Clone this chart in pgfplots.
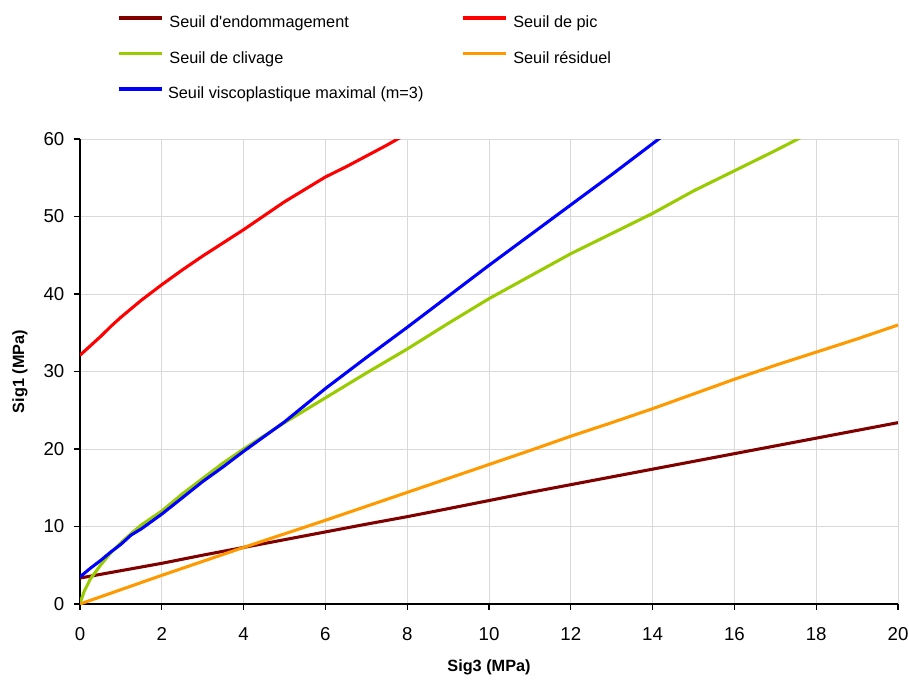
\documentclass[border=0pt]{standalone}
\usepackage{fontspec}
\setmainfont{Liberation Sans}
\usepackage{pgfplots}
\pgfplotsset{compat=1.18}
\definecolor{cbrown}{HTML}{800000}
\definecolor{cred}{HTML}{FF0000}
\definecolor{cgreen}{HTML}{99CC00}
\definecolor{corange}{HTML}{FF9900}
\definecolor{cblue}{HTML}{0000FF}
\begin{document}
\fontsize{12.2}{15}\selectfont
\begin{tikzpicture}
\begin{axis}[
  scale only axis, width=613.5pt, height=348.75pt,
  xmin=0, xmax=20, ymin=0, ymax=60,
  xtick={0,2,...,20}, ytick={0,10,...,60},
  axis x line*=bottom, axis y line*=left,
  tick align=outside, major tick length=4.5pt,
  grid=major, grid style={draw=black!15, line width=0.6pt},
  axis line style={line width=1pt, black},
  tick style={line width=1pt, black},
  /pgf/number format/assume math mode=true,
  tick label style={font=\fontsize{14}{16}\selectfont},
  xticklabel style={yshift=-9pt},
  yticklabel style={xshift=-3pt},
  xlabel={\bfseries Sig3 (MPa)}, ylabel={\bfseries Sig1 (MPa)},
  xlabel style={at={(axis description cs:0.5,-0.1355)}, anchor=center},
  ylabel style={at={(axis description cs:-0.0734,0.5)}, anchor=center},
  legend columns=2,
  legend cell align=left,
  legend style={draw=none, fill=none, inner sep=0pt,
    font=\fontsize{12.2}{14}\selectfont,
    at={(axis description cs:0.0452,1.2655)}, anchor=north west,
    nodes={inner sep=0pt},
    /tikz/every odd column/.append style={column sep=4.5pt},
    /tikz/every even column/.append style={column sep=84.2pt},
    row sep=15.9pt},
  legend image code/.code={\draw[#1, line width=2.4pt] (0pt,0.3em) -- (32.25pt,0.3em);},
  every axis plot/.append style={line width=2.3pt},
]
\addplot[cbrown] coordinates {
(0,3.35) (1,4.3) (2,5.25) (3,6.3) (4,7.3) (5,8.3) (6,9.3) (7,10.3) (8,11.27) (9,12.3) (10,13.35)
(11,14.4) (12,15.4) (13,16.4) (14,17.4) (15,18.4) (16,19.4) (17,20.4) (18,21.4) (19,22.4) (20,23.4)};
\addlegendentry{Seuil d\textquotesingle endommagement}
\addplot[cred] coordinates {
(0,32.1) (0.25,33.3) (0.5,34.5) (0.75,35.8) (1,37.0) (1.5,39.2) (2,41.2) (2.5,43.1) (3,44.9) (3.5,46.6)
(4,48.3) (4.5,50.1) (5,51.9) (5.5,53.5) (6,55.1) (6.5,56.4) (7,57.8) (7.5,59.2) (7.9,60.4)};
\addlegendentry{Seuil de pic}
\addplot[cgreen] coordinates {
(0,0.1) (0.1,1.6) (0.25,3.2) (0.5,5.0) (0.75,6.6) (1,7.9) (1.25,9.1) (1.5,10.2) (2,12.0) (2.5,14.2)
(3,16.2) (3.5,18.2) (4,20.0) (5,23.4) (6,26.6) (7,29.8) (8,32.9) (9,36.2) (10,39.4) (11,42.3)
(12,45.2) (13,47.8) (14,50.4) (15,53.3) (16,55.9) (17,58.5) (17.7,60.4)};
\addlegendentry{Seuil de clivage}
\addplot[corange] coordinates {
(0,0) (1,1.85) (2,3.7) (3,5.5) (4,7.3) (5,9.05) (6,10.8) (7,12.6) (8,14.4) (9,16.2) (10,18.0)
(11,19.8) (12,21.65) (13,23.4) (14,25.2) (15,27.1) (16,29.0) (17,30.8) (18,32.5) (19,34.2) (20,36.0)};
\addlegendentry{Seuil résiduel}
\addplot[cblue] coordinates {
(0,3.5) (0.25,4.6) (0.5,5.6) (0.75,6.7) (1,7.7) (1.25,8.9) (1.5,9.7) (2,11.6) (2.5,13.7) (3,15.8)
(3.5,17.7) (4,19.7) (5,23.5) (6,27.8) (7,31.8) (8,35.7) (9,39.7) (10,43.7) (11,47.6) (12,51.5)
(13,55.4) (14,59.4) (14.3,60.6)};
\addlegendentry{\rlap{\hspace*{-1.5pt}Seuil viscoplastique maximal (m=3)}}
\end{axis}
\pgfresetboundingbox
\path (-60pt,-58.5pt) rectangle (621.75pt,453pt);
\end{tikzpicture}
\end{document}
